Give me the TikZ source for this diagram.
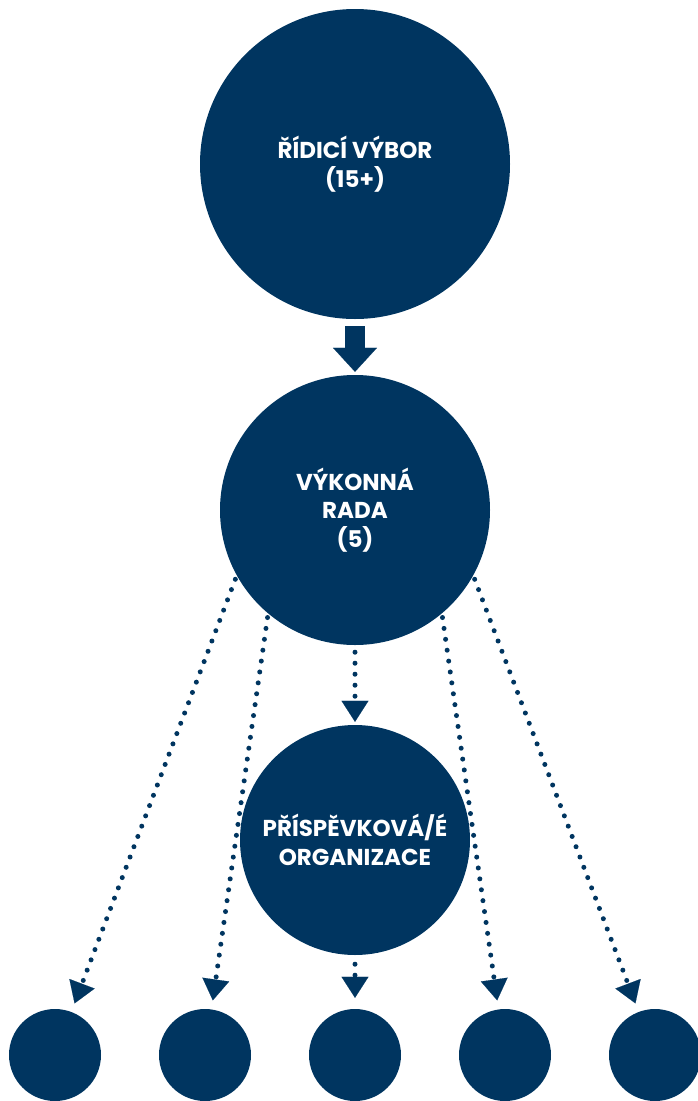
\documentclass[tikz,border=0pt]{standalone}
\usepackage{fontspec}
\newfontfamily\labfont{Poppins}
\usetikzlibrary{arrows.meta}
\definecolor{navy}{HTML}{003560}
\begin{document}
\begin{tikzpicture}[x=1pt,y=-1pt,
  disc/.style={circle,fill=navy,inner sep=0pt,minimum size=#1},
  lab/.style={text=white,font=\labfont\bfseries\fontsize{23}{28.5}\selectfont,align=center},
  dotline/.style={draw=navy,line width=5pt,line cap=round,dash pattern=on 0pt off 11pt},
  dtip/.style={-{Triangle[width=27pt,length=21pt,line width=0.1pt,fill=navy,color=navy]}},
  bigarrow/.style={draw=navy,line width=20pt,-{Triangle[width=44pt,length=24pt,line width=0.1pt,fill=navy,color=navy]}}
]
\useasboundingbox (0,0) rectangle (698,1101);
\node[disc=310pt,lab] (top) at (355,164) {ŘÍDICÍ VÝBOR\\(15+)};
\node[disc=270pt,lab] (vr) at (355,510) {VÝKONNÁ\\RADA\\(5)};
\node[disc=230pt,lab] (po) at (355,840) {PŘÍSPĚVKOVÁ/É\\ORGANIZACE};
\foreach \i/\x in {1/55,2/205,3/355,4/505,5/655}
  \node[disc=92pt] (b\i) at (\x,1055) {};
\draw[bigarrow,shorten <=7pt,shorten >=3pt] (top) -- (vr);
\draw[dotline,dtip,shorten <=7pt,shorten >=3pt] (vr) -- (po);
\draw[dotline,dtip,shorten <=9pt,shorten >=11pt] (po) -- (b3);
\draw[dotline,dtip,shorten <=4pt,shorten >=9pt] (vr.209) -- (b1);
\draw[dotline,dtip,shorten <=4pt,shorten >=9pt] (vr.230) -- (b2);
\draw[dotline,dtip,shorten <=4pt,shorten >=9pt] (vr.310) -- (b4);
\draw[dotline,dtip,shorten <=4pt,shorten >=9pt] (vr.331) -- (b5);
\end{tikzpicture}
\end{document}
